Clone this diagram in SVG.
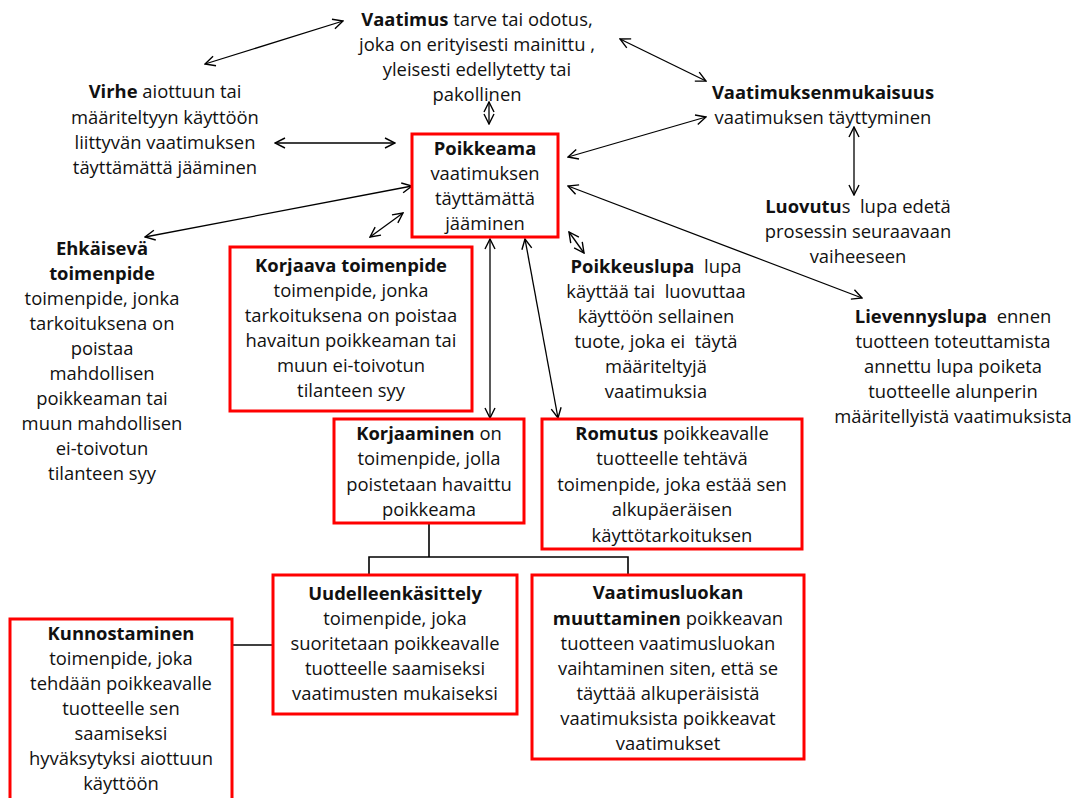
<svg xmlns="http://www.w3.org/2000/svg" width="1080" height="798" viewBox="0 0 1080 798">
  <style>
    text { font-family: "Open Sans", "Noto Sans", "Liberation Sans", sans-serif; font-size: 18.4px; fill: #111; text-anchor: middle; font-variant-ligatures: none; }
    .b { font-weight: bold; }
    .box { fill: #fff; stroke: #ff0000; stroke-width: 3; }
    .link { fill: none; stroke: #000; stroke-width: 1.3; }
    .tree { fill: none; stroke: #000; stroke-width: 1.6; }
  </style>
  <defs>
    <marker id="arr" viewBox="0 0 12 12" refX="11" refY="6" markerWidth="12" markerHeight="12" markerUnits="userSpaceOnUse" orient="auto-start-reverse">
      <path d="M1,1 L11,6 L1,11" fill="none" stroke="#000" stroke-width="1.4"/>
    </marker>
  </defs>
  <rect width="1080" height="798" fill="#fff"/>

  <!-- connectors -->
  <g id="connectors">
    <line class="link" x1="205" y1="64" x2="343" y2="21" marker-start="url(#arr)" marker-end="url(#arr)"/>
    <line class="link" x1="620" y1="39" x2="706" y2="81" marker-start="url(#arr)" marker-end="url(#arr)"/>
    <line class="link" x1="489" y1="102" x2="489" y2="124" marker-start="url(#arr)" marker-end="url(#arr)"/>
    <line class="link" x1="275" y1="143" x2="395" y2="143" marker-start="url(#arr)" marker-end="url(#arr)"/>
    <line class="link" x1="568" y1="157" x2="706" y2="117" marker-start="url(#arr)" marker-end="url(#arr)"/>
    <line class="link" x1="854" y1="127" x2="854" y2="195" marker-start="url(#arr)" marker-end="url(#arr)"/>
    <line class="link" x1="145" y1="237" x2="412" y2="186" marker-start="url(#arr)" marker-end="url(#arr)"/>
    <line class="link" x1="370" y1="237" x2="403" y2="213" marker-start="url(#arr)" marker-end="url(#arr)"/>
    <line class="link" x1="569" y1="232" x2="584" y2="253" marker-start="url(#arr)" marker-end="url(#arr)"/>
    <line class="link" x1="568" y1="186" x2="862" y2="298" marker-start="url(#arr)" marker-end="url(#arr)"/>
    <line class="link" x1="490" y1="239" x2="490" y2="418" marker-start="url(#arr)" marker-end="url(#arr)"/>
    <line class="link" x1="525" y1="239" x2="558" y2="418" marker-start="url(#arr)" marker-end="url(#arr)"/>
    <path class="tree" d="M429,524 V557 M369,575 V557 H628 V575"/>
    <line class="tree" x1="232" y1="645" x2="273" y2="645"/>
  </g>

  <g id="vaatimus">
    <text x="477" y="26"><tspan class="b">Vaatimus</tspan> tarve tai odotus,</text>
    <text x="477" y="51">joka on erityisesti mainittu ,</text>
    <text x="477" y="76">yleisesti edellytetty tai</text>
    <text x="477" y="101">pakollinen</text>
  </g>

  <g id="virhe">
    <text x="165" y="98"><tspan class="b">Virhe</tspan> aiottuun tai</text>
    <text x="165" y="124">määriteltyyn käyttöön</text>
    <text x="165" y="149">liittyvän vaatimuksen</text>
    <text x="165" y="174">täyttämättä jääminen</text>
  </g>

  <g id="vaatimuksenmukaisuus">
    <text x="823" y="99" class="b">Vaatimuksenmukaisuus</text>
    <text x="823" y="124">vaatimuksen täyttyminen</text>
  </g>

  <g id="poikkeama">
    <rect class="box" x="412" y="134" width="146" height="103"/>
    <text x="485" y="155" class="b">Poikkeama</text>
    <text x="485" y="180">vaatimuksen</text>
    <text x="485" y="205">täyttämättä</text>
    <text x="485" y="230">jääminen</text>
  </g>

  <g id="luovutus">
    <text x="858" y="213" xml:space="preserve"><tspan class="b">Luovutu</tspan>s  lupa edetä</text>
    <text x="858" y="238">prosessin seuraavaan</text>
    <text x="858" y="263">vaiheeseen</text>
  </g>

  <g id="ehkaiseva">
    <text x="102" y="255" class="b">Ehkäisevä</text>
    <text x="102" y="280" class="b">toimenpide</text>
    <text x="102" y="305">toimenpide, jonka</text>
    <text x="102" y="330">tarkoituksena on</text>
    <text x="102" y="355">poistaa</text>
    <text x="102" y="380">mahdollisen</text>
    <text x="102" y="405">poikkeaman tai</text>
    <text x="102" y="430">muun mahdollisen</text>
    <text x="102" y="455">ei-toivotun</text>
    <text x="102" y="480">tilanteen syy</text>
  </g>

  <g id="korjaava">
    <rect class="box" x="230" y="247" width="242" height="164"/>
    <text x="351" y="272" class="b">Korjaava toimenpide</text>
    <text x="351" y="297">toimenpide, jonka</text>
    <text x="351" y="322">tarkoituksena on poistaa</text>
    <text x="351" y="347">havaitun poikkeaman tai</text>
    <text x="351" y="372">muun ei-toivotun</text>
    <text x="351" y="397">tilanteen syy</text>
  </g>

  <g id="poikkeuslupa">
    <text x="656" y="273" xml:space="preserve"><tspan class="b">Poikkeuslupa</tspan>  lupa</text>
    <text x="656" y="298" xml:space="preserve">käyttää tai  luovuttaa</text>
    <text x="656" y="323">käyttöön sellainen</text>
    <text x="656" y="348" xml:space="preserve">tuote, joka ei  täytä</text>
    <text x="656" y="373">määriteltyjä</text>
    <text x="656" y="398">vaatimuksia</text>
  </g>

  <g id="lievennyslupa">
    <text x="953" y="323" xml:space="preserve"><tspan class="b">Lievennyslupa</tspan>  ennen</text>
    <text x="953" y="348">tuotteen toteuttamista</text>
    <text x="953" y="373">annettu lupa poiketa</text>
    <text x="953" y="398">tuotteelle alunperin</text>
    <text x="953" y="423">määritellyistä vaatimuksista</text>
  </g>

  <g id="korjaaminen">
    <rect class="box" x="334" y="419" width="190" height="104"/>
    <text x="429" y="440"><tspan class="b">Korjaaminen</tspan> on</text>
    <text x="429" y="465">toimenpide, jolla</text>
    <text x="429" y="491">poistetaan havaittu</text>
    <text x="429" y="516">poikkeama</text>
  </g>

  <g id="romutus">
    <rect class="box" x="542" y="419" width="260" height="130"/>
    <text x="672" y="440"><tspan class="b">Romutus</tspan> poikkeavalle</text>
    <text x="672" y="465">tuotteelle tehtävä</text>
    <text x="672" y="491">toimenpide, joka estää sen</text>
    <text x="672" y="516">alkupäeräisen</text>
    <text x="672" y="542">käyttötarkoituksen</text>
  </g>

  <g id="uudelleenkasittely">
    <rect class="box" x="273" y="575" width="244" height="139"/>
    <text x="395" y="600" class="b">Uudelleenkäsittely</text>
    <text x="395" y="625">toimenpide, joka</text>
    <text x="395" y="650">suoritetaan poikkeavalle</text>
    <text x="395" y="675">tuotteelle saamiseksi</text>
    <text x="395" y="700">vaatimusten mukaiseksi</text>
  </g>

  <g id="vaatimusluokan-muuttaminen">
    <rect class="box" x="532" y="575" width="272" height="184"/>
    <text x="668" y="599" class="b">Vaatimusluokan</text>
    <text x="668" y="625"><tspan class="b">muuttaminen</tspan> poikkeavan</text>
    <text x="668" y="650">tuotteen vaatimusluokan</text>
    <text x="668" y="675">vaihtaminen siten, että se</text>
    <text x="668" y="700">täyttää alkuperäisistä</text>
    <text x="668" y="725">vaatimuksista poikkeavat</text>
    <text x="668" y="750">vaatimukset</text>
  </g>

  <g id="kunnostaminen">
    <rect class="box" x="10" y="619" width="222" height="200"/>
    <text x="121" y="640" class="b">Kunnostaminen</text>
    <text x="121" y="665">toimenpide, joka</text>
    <text x="121" y="690">tehdään poikkeavalle</text>
    <text x="121" y="715">tuotteelle sen</text>
    <text x="121" y="740">saamiseksi</text>
    <text x="121" y="765">hyväksytyksi aiottuun</text>
    <text x="121" y="790">käyttöön</text>
  </g>
</svg>
